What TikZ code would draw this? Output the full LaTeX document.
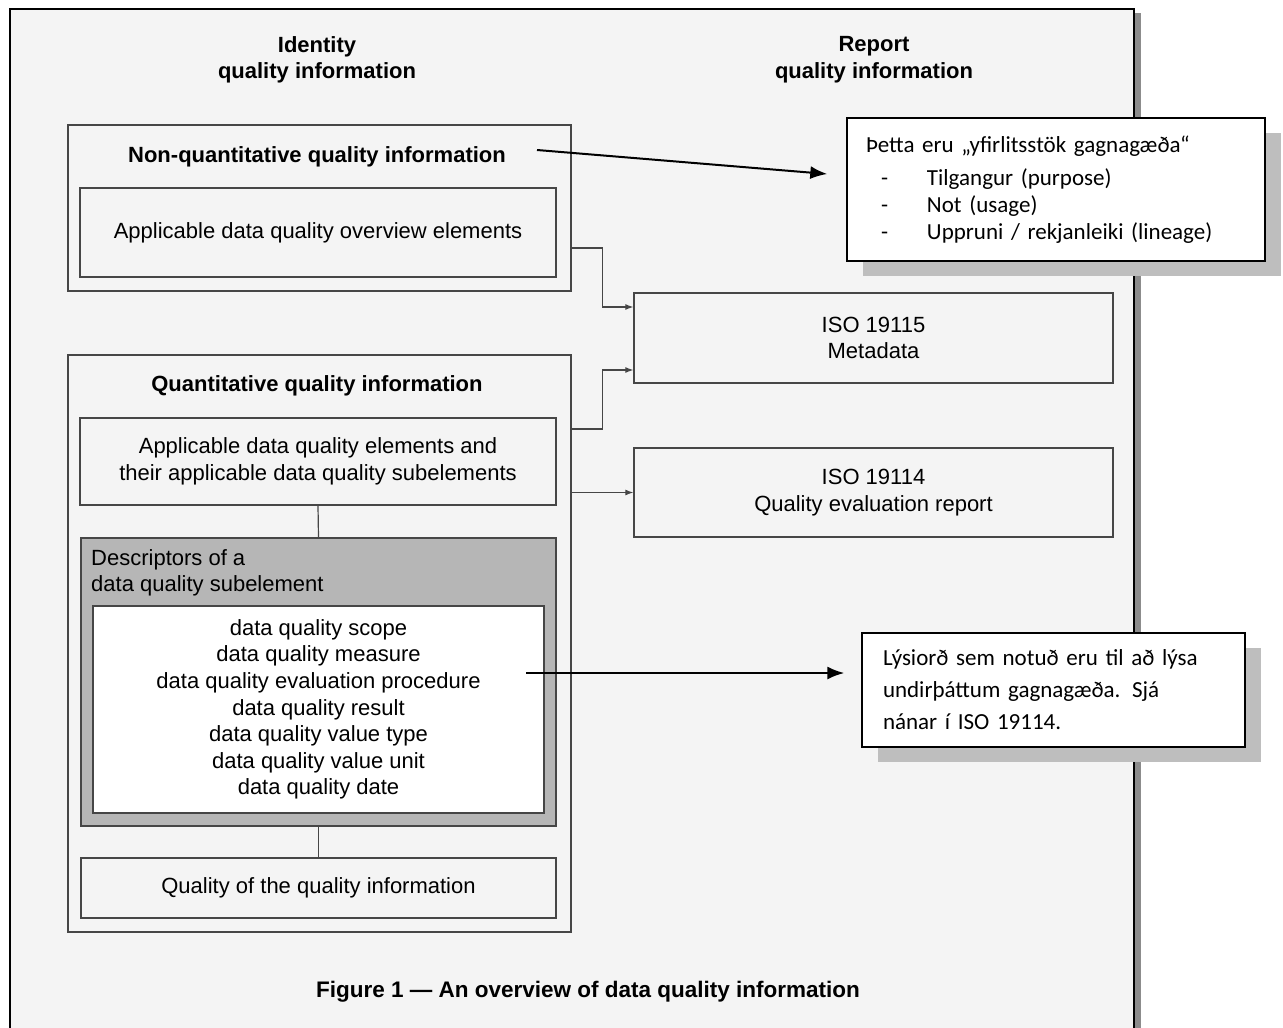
\documentclass[tikz,border=0pt]{standalone}
\usepackage{fontspec}
\setmainfont{Liberation Sans}
\newfontfamily\calfont{Carlito}
\usetikzlibrary{positioning, arrows.meta, shadows}

\definecolor{pagebg}{RGB}{244,244,244}
\definecolor{boxline}{RGB}{70,70,70}
\definecolor{hatch}{RGB}{182,182,182}
\definecolor{noteshadow}{RGB}{190,190,190}

\newcommand{\dqfont}{\fontsize{22}{26.6}\selectfont}
\newcommand{\notefont}{\fontsize{23}{27}\selectfont}
\newcommand{\noteitem}[1]{\makebox[61pt][l]{\hspace{15pt}-}#1}

\tikzset{
    box/.style={draw=boxline, line width=1.3pt, inner sep=0pt, align=center, font=\dqfont},
    head/.style={align=center, font=\dqfont\bfseries, inner sep=0pt},
    link/.style={draw=boxline, line width=1.2pt, -{Latex[length=8pt,width=6pt]}},
    note/.style={draw, line width=1.4pt, fill=white, align=left, inner ysep=0pt,
        drop shadow={shadow xshift=16pt, shadow yshift=-15pt, fill=noteshadow, opacity=1}},
    callarrow/.style={line width=2pt, -{Latex[length=17pt,width=13pt]}}
}

\begin{document}
\begin{tikzpicture}[x=1pt, y=-1pt]
    \useasboundingbox (0,0) rectangle (1283,1028);

    % scanned page
    \fill[pagebg] (10,9) rectangle (1134,1040);
    \fill[black!45] (1134,13) rectangle (1141,1040);
    \draw[line width=2pt] (10,1040) -- (10,9) -- (1134,9) -- (1134,1040);

    \node[head] (idhead) at (317,60) {Identity\\quality information};
    \node[head] (rephead) at (874,60) {Report\\quality information};

    % non-quantitative
    \node[box, minimum width=503, minimum height=166] (nonquant) at (319.5,208) {};
    \node[head] (nqtitle) at (317,157) {Non-quantitative quality information};
    \node[box, minimum width=476, minimum height=89] (overview) at (318,232.5)
        {Applicable data quality overview elements};

    % quantitative
    \node[box, minimum width=503, minimum height=577] (quant) at (319.5,643.5) {};
    \node[head] (qtitle) at (317,386) {Quantitative quality information};
    \node[box, minimum width=476, minimum height=87] (elements) at (318,461.5)
        {Applicable data quality elements and\\their applicable data quality subelements};
    \node[box, fill=hatch, minimum width=475, minimum height=288] (descr) at (318.5,682) {};
    \node[anchor=west, align=left, font=\dqfont, inner sep=0pt] (descrlab) at (91,573)
        {Descriptors of a\\data quality subelement};
    \node[box, fill=white, minimum width=451, minimum height=207] (descrlist) at (318.5,709.5)
        {data quality scope\\data quality measure\\data quality evaluation procedure\\
         data quality result\\data quality value type\\data quality value unit\\data quality date};
    \node[box, minimum width=475, minimum height=60] (qofq) at (318.5,888)
        {Quality of the quality information};

    \draw[boxline, line width=1.2pt] (elements.south) -- (descr.north);
    \draw[boxline, line width=1.2pt] (descr.south) -- (qofq.north);

    % standards
    \node[box, minimum width=479, minimum height=90] (iso15) at (873.5,338) {ISO 19115\\Metadata};
    \node[box, minimum width=479, minimum height=89] (iso14) at (873.5,492.5)
        {ISO 19114\\Quality evaluation report};

    \draw[link] ([yshift=-40pt]nonquant.east) -- ++(31,0) |- ([yshift=31pt]iso15.west);
    \draw[link] ([yshift=214.5pt]quant.east) -- ++(31,0) |- ([yshift=-32pt]iso15.west);
    \draw[link] (quant.east |- iso14.west) -- (iso14.west);

    \node[font=\fontsize{22.5}{27}\selectfont\bfseries, inner sep=0pt] (caption) at (588,992)
        {Figure 1 --- An overview of data quality information};

    % notes
    \node[note, font=\notefont\calfont, text width=380pt, inner xsep=19pt, minimum height=143]
        (notea) at (1056,189.5)
        {Þetta eru „yfirlitsstök gagnagæða“\\[6pt]
         \noteitem{Tilgangur (purpose)}\\
         \noteitem{Not (usage)}\\
         \noteitem{Uppruni / rekjanleiki (lineage)}};
    \node[note, font=\calfont\fontsize{23}{32}\selectfont, text width=341pt, inner xsep=21pt, minimum height=114]
        (noteb) at (1053.5,690)
        {Lýsiorð sem notuð eru til að lýsa\\undirþáttum gagnagæða. Sjá\\nánar í ISO 19114.};

    \coordinate (starta) at (537,150);
    \coordinate (startb) at (526,673);
    \draw[callarrow] (starta) -- ([xshift=-19pt,yshift=15.5pt]notea.west);
    \draw[callarrow] (startb) -- ([xshift=-17pt,yshift=17pt]noteb.west);
\end{tikzpicture}
\end{document}
